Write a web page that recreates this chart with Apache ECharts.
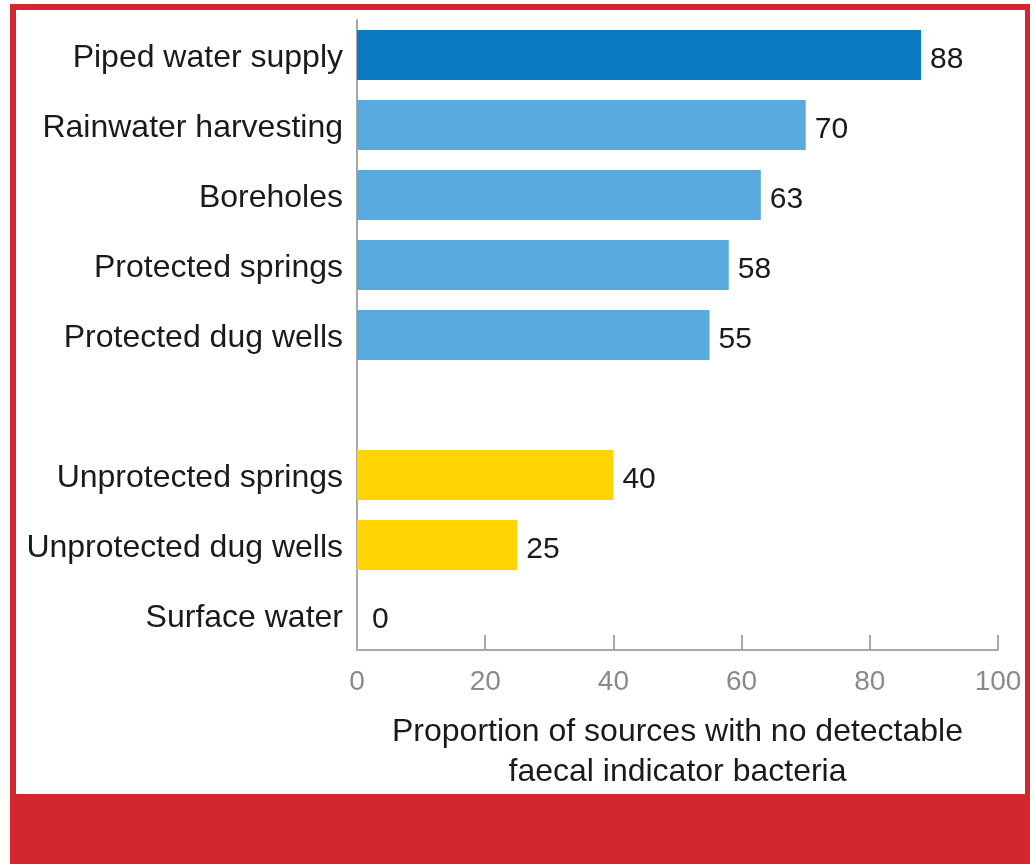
<!DOCTYPE html>
<html>
<head>
<meta charset="utf-8">
<style>
  html, body { margin: 0; padding: 0; background: #ffffff; }
  #chart { width: 1030px; height: 864px; }
</style>
<script src="https://cdn.jsdelivr.net/npm/echarts@6/dist/echarts.min.js"></script>
</head>
<body>
<div id="chart"></div>
<script>
// Source types (an empty slot separates the improved and unimproved groups)
var categories = [
  'Piped water supply',
  'Rainwater harvesting',
  'Boreholes',
  'Protected springs',
  'Protected dug wells',
  '',
  'Unprotected springs',
  'Unprotected dug wells',
  'Surface water'
];
// Share of sources with no detectable faecal indicator bacteria (%)
var values = [88, 70, 63, 58, 55, null, 40, 25, 0];
// Bar colour group for each source type
var groups = ['piped', 'improved', 'improved', 'improved', 'improved', null, 'unimproved', 'unimproved', 'unimproved'];
var xTicks = [0, 20, 40, 60, 80, 100];
var axisTitle = 'Proportion of sources with no detectable\nfaecal indicator bacteria';

var groupColors = { piped: '#0b7bc1', improved: '#5aabdd', unimproved: '#ffd400' };
var FONT = '"Liberation Sans", Arial, Helvetica, sans-serif';

var chart = echarts.init(document.getElementById('chart'), null, { renderer: 'canvas' });

var barData = values.map(function (v, i) {
  if (v === null) return { value: null };
  var item = { value: v, itemStyle: { color: groupColors[groups[i]] } };
  // a zero-length bar keeps its label clear of the axis line
  if (v === 0) item.label = { distance: 15 };
  return item;
});

chart.setOption({
  animation: false,
  backgroundColor: '#ffffff',
  textStyle: { fontFamily: FONT },
  graphic: [
    { type: 'rect', z: -10, silent: true, shape: { x: 10, y: 4, width: 1020, height: 860 }, style: { fill: '#d42630' } },
    { type: 'rect', z: -9, silent: true, shape: { x: 16, y: 10, width: 1009, height: 784 }, style: { fill: '#ffffff' } }
  ],
  grid: { left: 357, right: 32, top: 20, bottom: 214, containLabel: false },
  xAxis: {
    type: 'value',
    min: xTicks[0],
    max: xTicks[xTicks.length - 1],
    interval: xTicks[1] - xTicks[0],
    axisLine: { show: true, lineStyle: { color: '#a9a9a9', width: 2 } },
    axisTick: { show: true, inside: true, length: 15, lineStyle: { color: '#a9a9a9', width: 2 } },
    splitLine: { show: false },
    axisLabel: { color: '#8a8a8a', fontSize: 28, margin: 18, fontFamily: FONT },
    name: axisTitle,
    nameLocation: 'middle',
    nameGap: 62,
    nameTextStyle: { color: '#1a1a1a', fontSize: 32, lineHeight: 40, fontFamily: FONT }
  },
  yAxis: {
    type: 'category',
    inverse: true,
    data: categories,
    axisLine: { show: true, lineStyle: { color: '#a9a9a9', width: 2 } },
    axisTick: { show: false },
    // a short line box set from the band centre sits the text a few pixels low
    axisLabel: { color: '#1a1a1a', fontSize: 32, margin: 14, verticalAlign: 'top', lineHeight: 6, fontFamily: FONT }
  },
  series: [{
    type: 'bar',
    data: barData,
    barWidth: 50,
    label: {
      show: true,
      position: 'right',
      distance: 9,
      offset: [0, 5],
      color: '#1a1a1a',
      fontSize: 30,
      fontFamily: FONT
    }
  }]
});
</script>
</body>
</html>
